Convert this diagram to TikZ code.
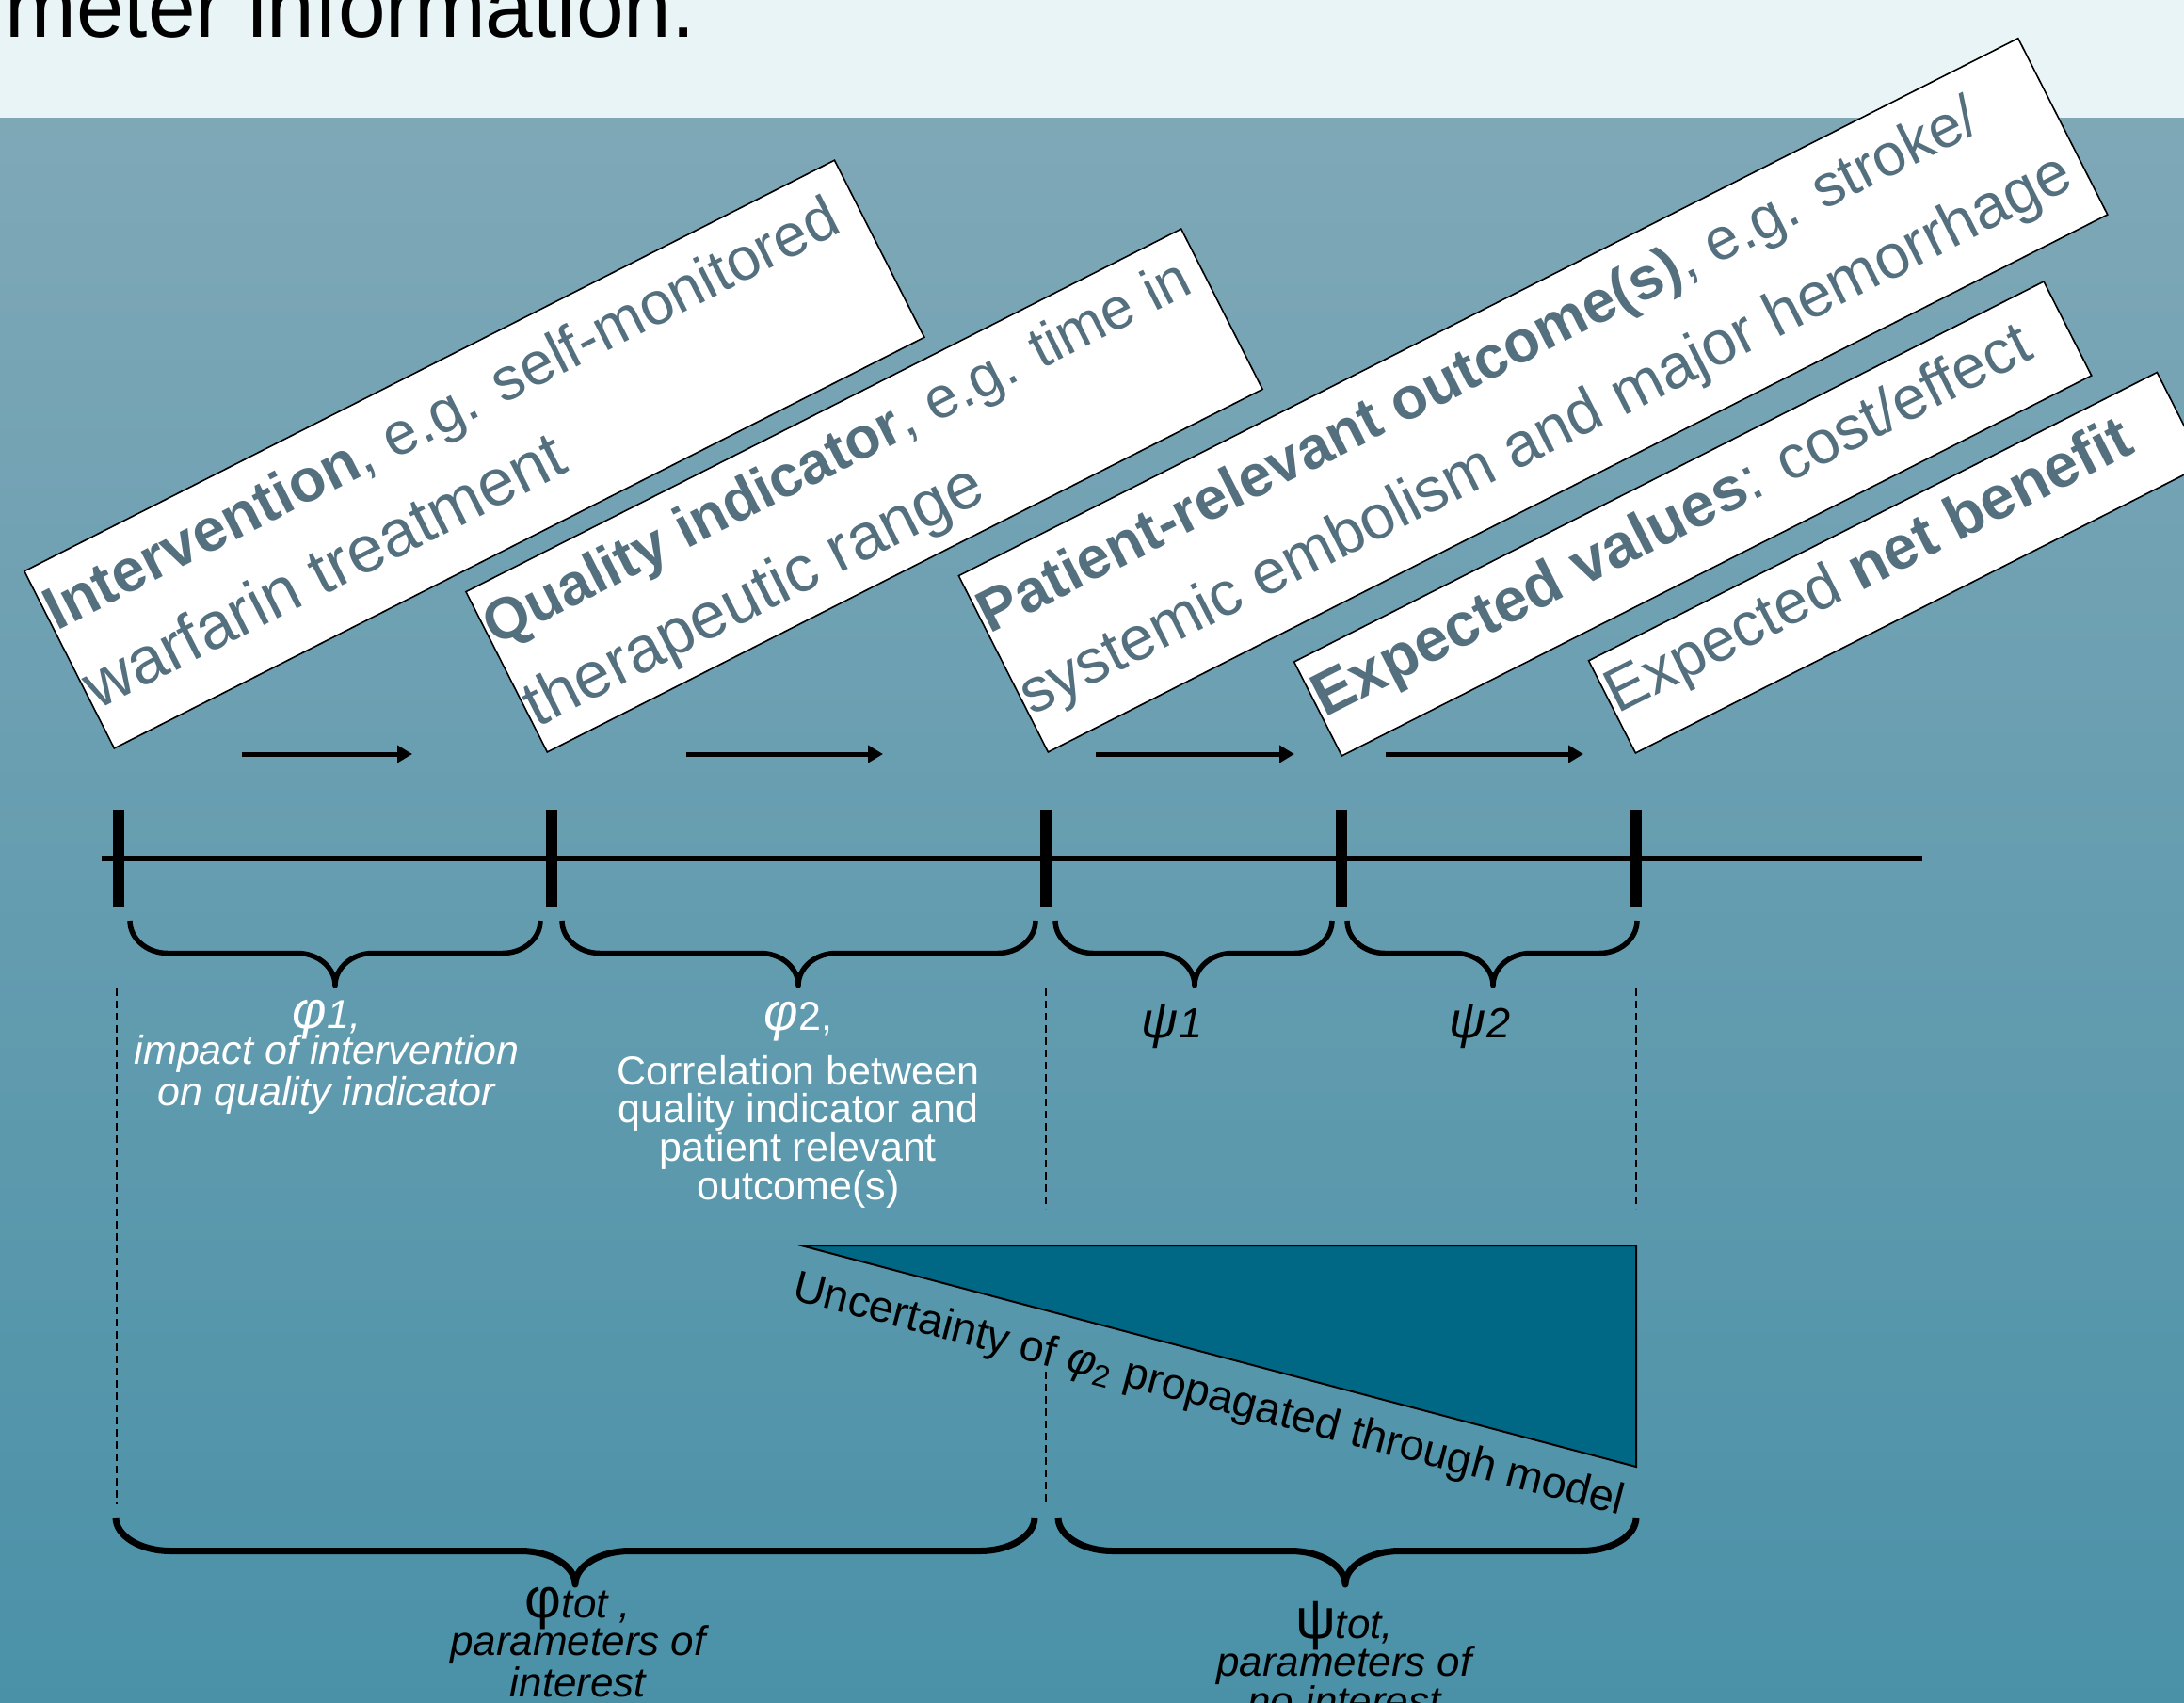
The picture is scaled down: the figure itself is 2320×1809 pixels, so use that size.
\documentclass[tikz,border=0pt]{standalone}
\usepackage{fontspec}
\setmainfont{Liberation Sans}
\usetikzlibrary{arrows.meta}

\definecolor{bandcol}{RGB}{232,244,246}
\definecolor{bgtop}{RGB}{127,168,183}
\definecolor{bgbot}{RGB}{74,145,168}
\definecolor{boxtext}{RGB}{84,112,126}
\definecolor{tricol}{RGB}{0,104,132}

\newcommand{\fsz}[2]{\fontsize{#1}{#2}\selectfont}
% optional style, x1, x2, xtip, ytop, dy, rx
\newcommand{\mybrace}[7][]{%
  \draw[braceline,#1] (#2,#5) .. controls (#2,{#5+0.55*#6}) and ({#2+0.45*#7},{#5+#6}) .. ({#2+#7},{#5+#6})
    -- ({#4-#7},{#5+#6}) .. controls ({#4-0.45*#7},{#5+#6}) and (#4,{#5+1.45*#6}) .. (#4,{#5+2*#6})
    .. controls (#4,{#5+1.45*#6}) and ({#4+0.45*#7},{#5+#6}) .. ({#4+#7},{#5+#6})
    -- ({#3-#7},{#5+#6}) .. controls ({#3-0.45*#7},{#5+#6}) and (#3,{#5+0.55*#6}) .. (#3,#5);}

\begin{document}
\begin{tikzpicture}[x=0.5pt, y=-0.5pt,
  tbox/.style={draw=black, line width=0.8pt, fill=white, rotate=26.9, anchor=south west, inner sep=0pt, text=boxtext},
  arr/.style={line width=2.5pt, -{Triangle[length=8pt,width=9pt]}},
  tickmark/.style={line width=6pt},
  dline/.style={line width=0.75pt, dash pattern=on 4pt off 2.5pt},
  braceline/.style={line width=2.75pt, line join=round},
  bigbrace/.style={line width=3.5pt},
  lbl/.style={inner sep=0pt, align=center, anchor=base}
]
\clip (0,0) rectangle (2320,1809);
% background
\fill[bandcol] (0,0) rectangle (2320,126);
\fill[top color=bgtop, bottom color=bgbot] (0,126) rectangle (2320,1809);

% title
\node[anchor=base west, inner sep=0pt, font=\fsz{45.5pt}{45.5pt}] (title) at (5,40) {meter information.};

% rotated boxes
\node[tbox] (b1) at (121,796) {\parbox[c][105.5pt][t]{482.5pt}{\fsz{32pt}{47.5pt}\rule{0pt}{36pt}\hspace*{1pt}\mbox{\textbf{Intervention}, e.g. self-monitored}\\\hspace*{1pt}\mbox{\fsz{35pt}{35pt}warfarin treatment}}};
\node[tbox] (b2) at (581,800) {\parbox[c][95.5pt][t]{426pt}{\fsz{31pt}{48.5pt}\rule{0pt}{33pt}\hspace*{1pt}\mbox{\textbf{Quality indicator}, e.g. time in}\\\hspace*{1pt}\mbox{\fsz{34.5pt}{34.5pt}therapeutic range}}};
\node[tbox] (b3) at (1113,800) {\parbox[c][105pt][t]{631pt}{\fsz{31.5pt}{49pt}\rule{0pt}{35pt}\hspace*{1pt}\mbox{\textbf{Patient-relevant outcome(s)}, e.g. stroke/}\\\hspace*{1pt}\mbox{\fsz{33pt}{33pt}systemic embolism and major hemorrhage}}};
\node[tbox] (b4) at (1425,804) {\parbox[c][56pt][t]{446.5pt}{\fsz{32.5pt}{40pt}\rule{0pt}{34pt}\hspace*{1pt}\mbox{\textbf{Expected values}: cost/effect}}};
\node[tbox] (b5) at (1737,801) {\parbox[c][55pt][t]{338.5pt}{\fsz{32.5pt}{40pt}\rule{0pt}{32.5pt}\hspace*{1pt}\mbox{Expected \textbf{net benefit}}}};

% arrows
\draw[arr] (257,801) -- (438,801);
\draw[arr] (729,801) -- (938,801);
\draw[arr] (1164,801) -- (1375,801);
\draw[arr] (1472,801) -- (1682,801);

% timeline
\draw[line width=3pt] (108,912) -- (2042,912);
\foreach \x in {126,586,1111,1425,1738} \draw[tickmark] (\x,860) -- (\x,963);

% small braces
\mybrace{138}{574}{356}{978}{34.5}{40}
\mybrace{597}{1100}{848}{978}{34.5}{40}
\mybrace{1121}{1415}{1269}{978}{34.5}{40}
\mybrace{1431}{1739}{1586}{978}{34.5}{40}

% dashed guides
\draw[dline] (124,1050) -- (124,1598);
\draw[dline] (1111,1050) -- (1111,1284);
\draw[dline] (1111,1457) -- (1111,1595);
\draw[dline] (1738,1050) -- (1738,1284);

% triangle
\filldraw[fill=tricol, draw=black, line width=1pt] (851,1323) -- (1738,1323) -- (1738,1558) -- cycle;
\node[anchor=base west, rotate=-14.6, inner sep=0pt, font=\fsz{23.3pt}{23.3pt}] (lunc) at (840,1380) {Uncertainty of {\itshape φ}\textsubscript{2} propagated through model};

% big braces
\mybrace[bigbrace]{123}{1099}{611}{1612}{35.5}{58}
\mybrace[bigbrace]{1124}{1738}{1429}{1612}{35.5}{58}

% labels (anchor base = baseline of last line)
\node[lbl, text=white, font=\fsz{21.5pt}{22pt}\itshape] (lphi1) at (347,1174) {{\fsz{28pt}{28pt}φ}1,\\[-3pt] impact of intervention\\ on quality indicator};
\node[lbl, text=white, font=\fsz{21.5pt}{20.3pt}] (lphi2) at (848,1274) {{\fsz{28pt}{28pt}\itshape φ}2,\\[6.5pt] Correlation between\\ quality indicator and\\ patient relevant\\ outcome(s)};
\node[lbl, font=\fsz{22.5pt}{22pt}\itshape] (lpsi1) at (1245,1102) {{\fsz{27pt}{27pt}ψ}1};
\node[lbl, font=\fsz{22.5pt}{22pt}\itshape] (lpsi2) at (1572,1102) {{\fsz{27pt}{27pt}ψ}2};
\node[lbl, font=\fsz{22pt}{21pt}\itshape] (lphitot) at (614,1802) {{\fsz{30pt}{30pt}\upshape φ}tot ,\\[-3.5pt] parameters of\\[1pt] interest};
\node[lbl, font=\fsz{22pt}{21pt}\itshape] (lpsitot) at (1428,1822) {{\fsz{30pt}{30pt}\upshape ψ}tot,\\[-3.5pt] parameters of\\ no interest};
\end{tikzpicture}
\end{document}
